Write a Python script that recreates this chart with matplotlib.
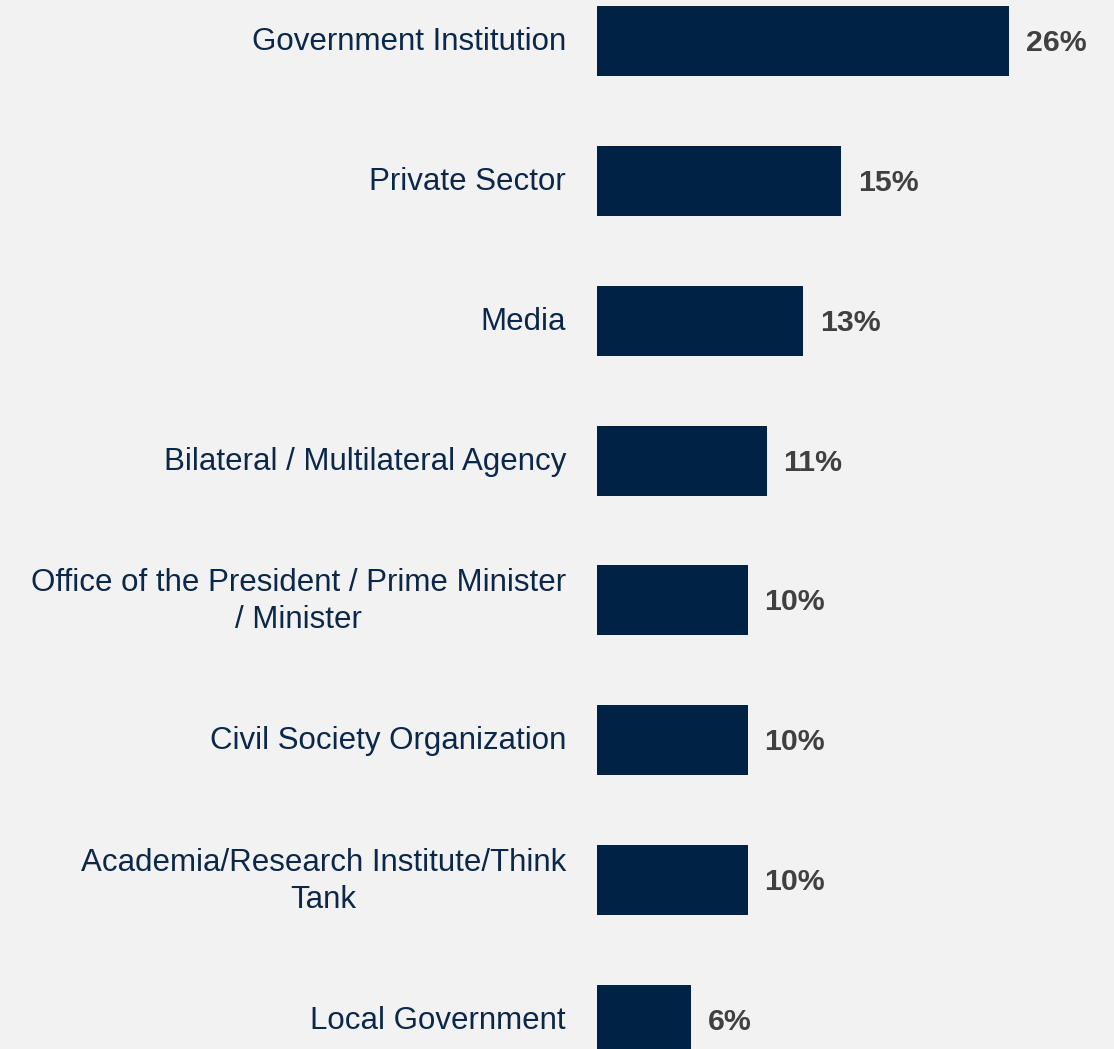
import matplotlib
matplotlib.use("Agg")
import matplotlib.pyplot as plt

categories = [
    "Government Institution",
    "Private Sector",
    "Media",
    "Bilateral / Multilateral Agency",
    "Office of the President / Prime Minister\n/ Minister",
    "Civil Society Organization",
    "Academia/Research Institute/Think\nTank",
    "Local Government",
]
values = [26.0, 15.4, 13.0, 10.7, 9.5, 9.5, 9.5, 5.9]
value_labels = ["26%", "15%", "13%", "11%", "10%", "10%", "10%", "6%"]

plt.rcParams['font.family'] = ['Liberation Sans', 'DejaVu Sans']

W, H = 1114, 1049
fig = plt.figure(figsize=(W / 100, H / 100), dpi=100)
bg = "#f2f2f2"
fig.patch.set_facecolor(bg)
left = 597 / W
ax = fig.add_axes([left, 0, 1 - left, 1])
ax.set_facecolor(bg)

y = list(range(len(categories)))
ax.barh(y, values, height=0.5, color="#002244")
ax.set_ylim(len(categories) - 1 + 0.207, -0.293)
ax.set_xlim(0, (W - 597) / 15.85)

for yi, v, lab in zip(y, values, value_labels):
    ax.annotate(lab, (v, yi), xytext=(17, -2), textcoords="offset pixels",
                ha="left", va="center", fontsize=21.8, fontweight="bold",
                color="#404040")

for yi, c in zip(y, categories):
    ax.annotate(c, (0, yi), xytext=(-31, -1), textcoords="offset pixels",
                ha="right", va="center", multialignment="center",
                fontsize=22.5, color="#0b2749", linespacing=1.3,
                annotation_clip=False)

ax.set_xticks([])
ax.set_yticks([])
for s in ax.spines.values():
    s.set_visible(False)

fig.savefig("out.png", dpi=100, facecolor=bg)
